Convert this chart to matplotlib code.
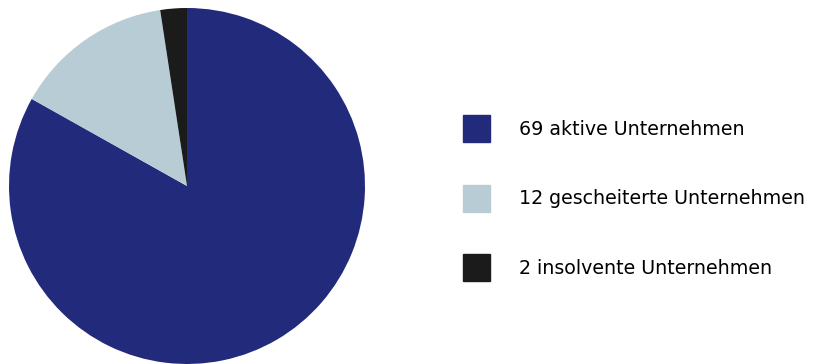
import matplotlib
matplotlib.use("Agg")
import matplotlib.pyplot as plt
import matplotlib.patches as mpatches

# data
labels = ["69 aktive Unternehmen", "12 gescheiterte Unternehmen", "2 insolvente Unternehmen"]
values = [69, 12, 2]
colors = ["#222a7c", "#b8ccd5", "#1b1b1b"]

W, H = 814, 364
fig = plt.figure(figsize=(W / 100, H / 100), dpi=100)

# pie axes: centre ~(187,186) px, radius ~178 px
ax = fig.add_axes([9 / W, 0.0, 356 / W, 356 / H])
ax.pie(values, colors=colors, startangle=90, counterclock=False,
       wedgeprops=dict(linewidth=0))
ax.set_xlim(-1, 1)
ax.set_ylim(-1, 1)
ax.axis("off")

handles = [mpatches.Patch(color=c, label=l) for c, l in zip(colors, labels)]
fig.legend(handles=handles, loc="upper left",
           bbox_to_anchor=(463 / W, 1 - 115 / H),
           frameon=False, fontsize=13.7, borderpad=0, borderaxespad=0,
           handlelength=1.44, handleheight=1.8, handletextpad=1.5,
           labelspacing=2.25)

fig.savefig("out.png", dpi=100, facecolor="white")
